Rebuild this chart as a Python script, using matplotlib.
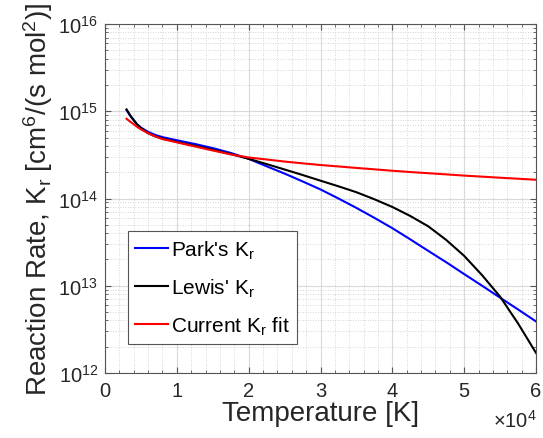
import numpy as np
import matplotlib
matplotlib.use("Agg")
import matplotlib.pyplot as plt
from matplotlib.ticker import FuncFormatter, MultipleLocator, LogLocator

plt.rcParams["font.family"] = ["Liberation Sans", "DejaVu Sans"]
plt.rcParams["mathtext.fontset"] = "custom"
plt.rcParams["mathtext.rm"] = "Liberation Sans"
plt.rcParams["mathtext.it"] = "Liberation Sans:italic"
plt.rcParams["mathtext.bf"] = "Liberation Sans:bold"

# temperature grid [K]
temp = [3000, 3500, 4000, 4500, 5000, 6000, 7000, 8000, 9000, 10000,
        12500, 15000, 17500, 20000, 22500, 25000, 27500, 30000, 32500, 35000,
        37500, 40000, 42500, 45000, 47500, 50000, 52500, 55000, 57500, 60000]

# recombination rates [cm^6/(s mol^2)]
park_kr = [1.03e15, 8.9e14, 7.9e14, 7.05e14, 6.5e14, 5.8e14, 5.35e14, 5.05e14, 4.85e14, 4.65e14,
           4.22e14, 3.78e14, 3.33e14, 2.85e14, 2.34e14, 1.93e14, 1.57e14, 1.27e14, 1.0e14, 7.8e13,
           6.0e13, 4.57e13, 3.4e13, 2.51e13, 1.86e13, 1.36e13, 1.0e13, 7.3e12, 5.35e12, 3.9e12]
lewis_kr = [1.05e15, 9.0e14, 7.9e14, 7.0e14, 6.4e14, 5.6e14, 5.15e14, 4.85e14, 4.65e14, 4.45e14,
            4.02e14, 3.62e14, 3.23e14, 2.85e14, 2.48e14, 2.15e14, 1.86e14, 1.6e14, 1.38e14, 1.18e14,
            9.8e13, 8.0e13, 6.3e13, 4.8e13, 3.35e13, 2.2e13, 1.32e13, 7.5e12, 3.7e12, 1.7e12]
fit_kr = [8.2e14, 7.6e14, 7.1e14, 6.6e14, 6.2e14, 5.6e14, 5.15e14, 4.8e14, 4.6e14, 4.4e14,
          3.95e14, 3.55e14, 3.2e14, 2.95e14, 2.8e14, 2.65e14, 2.53e14, 2.42e14, 2.33e14, 2.24e14,
          2.16e14, 2.08e14, 2.01e14, 1.95e14, 1.89e14, 1.83e14, 1.78e14, 1.73e14, 1.685e14, 1.64e14]

fig = plt.figure(figsize=(5.43, 4.39), dpi=100)
ax = fig.add_axes([105 / 543, 65 / 439, 431 / 543, 349 / 439])

ax.semilogy(temp, park_kr, color="#0000ff", lw=1.5, label="Park's K$_\\mathregular{r}$")
ax.semilogy(temp, lewis_kr, color="black", lw=1.5, label="Lewis' K$_\\mathregular{r}$")
ax.semilogy(temp, fit_kr, color="#ff0000", lw=1.5, label="Current K$_\\mathregular{r}$ fit")

ax.set_xlim(0, 6e4)
ax.set_ylim(1e12, 1e16)

ax.xaxis.set_major_locator(MultipleLocator(1e4))
ax.xaxis.set_minor_locator(MultipleLocator(2e3))
ax.xaxis.set_major_formatter(FuncFormatter(lambda v, p: f"{v / 1e4:g}"))
ax.yaxis.set_major_locator(LogLocator(base=10, numticks=10))
ax.yaxis.set_minor_locator(LogLocator(base=10, subs=np.arange(2, 10), numticks=20))

ax.grid(True, which="major", color="#d9d9d9", lw=0.8, ls="-")
ax.grid(True, which="minor", color="#c8c8c8", lw=0.6, ls=(0, (1, 2)))
ax.set_axisbelow(True)

for side in ax.spines.values():
    side.set_color("#555555")
    side.set_linewidth(0.8)
ax.tick_params(which="both", direction="in", top=True, right=True,
               colors="#555555", labelcolor="#262626", labelsize=14.5)
ax.tick_params(which="major", length=4)
ax.tick_params(which="minor", length=2)
ax.tick_params(axis="x", pad=6)
ax.tick_params(axis="y", pad=5)

ax.set_xlabel("Temperature [K]", fontsize=20, color="#262626", labelpad=0)
ax.set_ylabel("Reaction Rate, K$_\\mathregular{r}$ [cm$^\\mathregular{6}$/(s mol$^\\mathregular{2}$)]",
              fontsize=20, color="#262626", labelpad=2)
fig.text(537 / 543, 7 / 439, "$\\times\\mathregular{10^4}$",
         ha="right", va="bottom", fontsize=14.5, color="#262626")

leg = ax.legend(loc="upper left", bbox_to_anchor=(0.053, 0.406), borderaxespad=0,
                fontsize=15, fancybox=False, framealpha=1, edgecolor="#555555",
                handlelength=1.6, handletextpad=0.1, labelspacing=0.75, borderpad=0.35)
leg.get_frame().set_linewidth(0.8)

fig.savefig("out.png", dpi=100)
